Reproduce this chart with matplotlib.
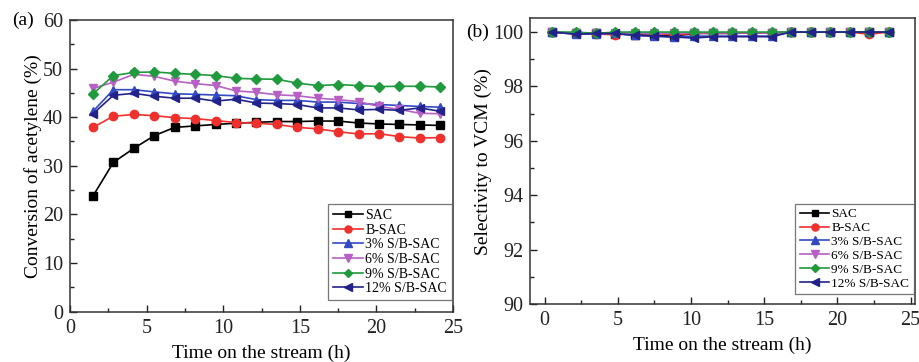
import numpy as np
import matplotlib
matplotlib.use('Agg')
import matplotlib.pyplot as plt
from matplotlib.ticker import MultipleLocator

plt.rcParams['font.family'] = ['Liberation Serif', 'DejaVu Serif']

labels = ['SAC', 'B-SAC', '3% S/B-SAC', '6% S/B-SAC', '9% S/B-SAC', '12% S/B-SAC']
colors = ['#000000', '#f0302c', '#3249c4', '#b75fc4', '#1f9a3c', '#22228a']
markers = ['s', 'o', '^', 'v', 'D', '<']
msizes = [5.5, 6, 6, 6, 5, 6]

# (a) conversion of acetylene
time_a = [1.5, 2.83, 4.17, 5.5, 6.83, 8.17, 9.5, 10.83, 12.17, 13.5, 14.83,
          16.17, 17.5, 18.83, 20.17, 21.5, 22.83, 24.17]
conv_sac = [23.8, 30.7, 33.6, 36.2, 37.9, 38.2, 38.5, 38.75, 38.95, 39.1, 39.1,
            39.2, 39.2, 38.8, 38.6, 38.5, 38.4, 38.3]
conv_bsac = [37.9, 40.2, 40.55, 40.3, 39.9, 39.7, 39.3, 38.9, 38.75, 38.5, 37.9,
             37.6, 37.0, 36.55, 36.6, 36.0, 35.7, 35.8]
conv_3 = [41.2, 45.65, 45.65, 45.2, 44.8, 44.7, 44.55, 44.4, 43.6, 43.45, 43.45,
          43.1, 43.1, 42.8, 42.6, 42.4, 42.2, 42.05]
conv_6 = [45.9, 47.2, 48.8, 48.4, 47.4, 46.9, 46.5, 45.4, 45.1, 44.6, 44.4,
          43.9, 43.6, 43.2, 42.2, 41.6, 40.8, 40.7]
conv_9 = [44.8, 48.55, 49.2, 49.3, 49.0, 48.8, 48.55, 48.0, 47.85, 47.8, 47.0,
          46.5, 46.7, 46.5, 46.3, 46.35, 46.35, 46.2]
conv_12 = [40.7, 44.5, 44.9, 44.3, 43.9, 43.9, 43.3, 43.7, 42.9, 42.8, 42.6,
           41.9, 41.9, 41.5, 41.6, 41.4, 41.9, 41.2]

# (b) selectivity to VCM
time_b = [0.5, 2.17, 3.5, 4.83, 6.17, 7.5, 8.83, 10.17, 11.5, 12.83, 14.17,
          15.5, 16.83, 18.17, 19.5, 20.83, 22.17, 23.5]
sel_sac = [100, 99.95, 99.95, 99.93, 99.9, 99.88, 99.85, 99.95, 99.95, 99.95, 99.97,
           99.97, 100, 100, 100, 100, 100, 100]
sel_bsac = [100, 99.95, 99.93, 99.9, 99.95, 99.95, 99.9, 99.95, 99.97, 99.97, 99.97,
            99.97, 100, 100, 100, 100, 99.92, 100]
sel_3 = [100, 99.92, 99.93, 99.95, 99.88, 99.85, 99.82, 99.85, 99.85, 99.85, 99.85,
         99.85, 100, 100, 100, 100, 100, 100]
sel_6 = [100, 99.95, 99.95, 99.97, 99.95, 99.95, 99.95, 99.97, 99.97, 99.97, 99.97,
         99.97, 100, 100, 100, 100, 100, 100]
sel_9 = [100, 100, 99.95, 100, 100, 100, 100, 100, 100, 100, 100,
         100, 100, 100, 100, 100, 100, 100]
sel_12 = [100, 99.92, 99.95, 99.95, 99.88, 99.85, 99.82, 99.78, 99.83, 99.83, 99.83,
          99.83, 100, 100, 100, 100, 100, 100]

conv = [conv_sac, conv_bsac, conv_3, conv_6, conv_9, conv_12]
sel = [sel_sac, sel_bsac, sel_3, sel_6, sel_9, sel_12]

fig = plt.figure(figsize=(9.19, 3.62), dpi=100)
ax1 = fig.add_axes([0.0762, 0.139, 0.4168, 0.806])
ax2 = fig.add_axes([0.5767, 0.160, 0.419, 0.789])

for i in range(6):
    ax1.plot(time_a, conv[i], color=colors[i], marker=markers[i], ms=msizes[i],
             lw=1.2, label=labels[i])
for i in range(6):
    ax2.plot(time_b, sel[i], color=colors[i], marker=markers[i], ms=msizes[i],
             lw=1.2, label=labels[i])

for ax in (ax1, ax2):
    for s in ax.spines.values():
        s.set_color('#333333')
        s.set_linewidth(1.1)
    ax.tick_params(which='both', direction='in', labelsize=14.5, colors='#222222')
    ax.tick_params(which='major', length=5, width=1, pad=5)
    ax.tick_params(which='minor', length=3, width=1)
    ax.xaxis.set_major_locator(MultipleLocator(5))
    ax.xaxis.set_minor_locator(MultipleLocator(2.5))
    ax.set_xlabel('Time on the stream (h)', fontsize=14, labelpad=5)

ax1.set_xlim(0, 25)
ax1.set_ylim(0, 60)
ax1.yaxis.set_major_locator(MultipleLocator(10))
ax1.yaxis.set_minor_locator(MultipleLocator(5))
ax1.set_ylabel('Conversion of acetylene (%)', fontsize=14, labelpad=1)
ax1.text(-0.15, 1.0, '(a)', transform=ax1.transAxes, fontsize=14, va='center', ha='left')
leg1 = ax1.legend(loc='lower right', bbox_to_anchor=(1.0, 0.035), fontsize=10,
                  fancybox=False, edgecolor='#555555', handlelength=2.2, markerscale=0.85,
                  labelspacing=0.12, handletextpad=0.15, borderpad=0.35, borderaxespad=0.1)
leg1.get_frame().set_linewidth(0.9)

ax2.set_xlim(-1, 25.3)
ax2.set_ylim(90, 100.5)
ax2.yaxis.set_major_locator(MultipleLocator(2))
ax2.yaxis.set_minor_locator(MultipleLocator(1))
ax2.set_ylabel('Selectivity to VCM (%)', fontsize=14, labelpad=1)
ax2.text(-0.165, 0.953, '(b)', transform=ax2.transAxes, fontsize=14, va='center', ha='left')
leg2 = ax2.legend(loc='lower right', bbox_to_anchor=(1.0, 0.03), fontsize=9.5,
                  fancybox=False, edgecolor='#555555', handlelength=2.2, markerscale=0.85,
                  labelspacing=0.12, handletextpad=0.15, borderpad=0.35, borderaxespad=0.1)
leg2.get_frame().set_linewidth(0.9)

fig.savefig('out.png', dpi=100)
